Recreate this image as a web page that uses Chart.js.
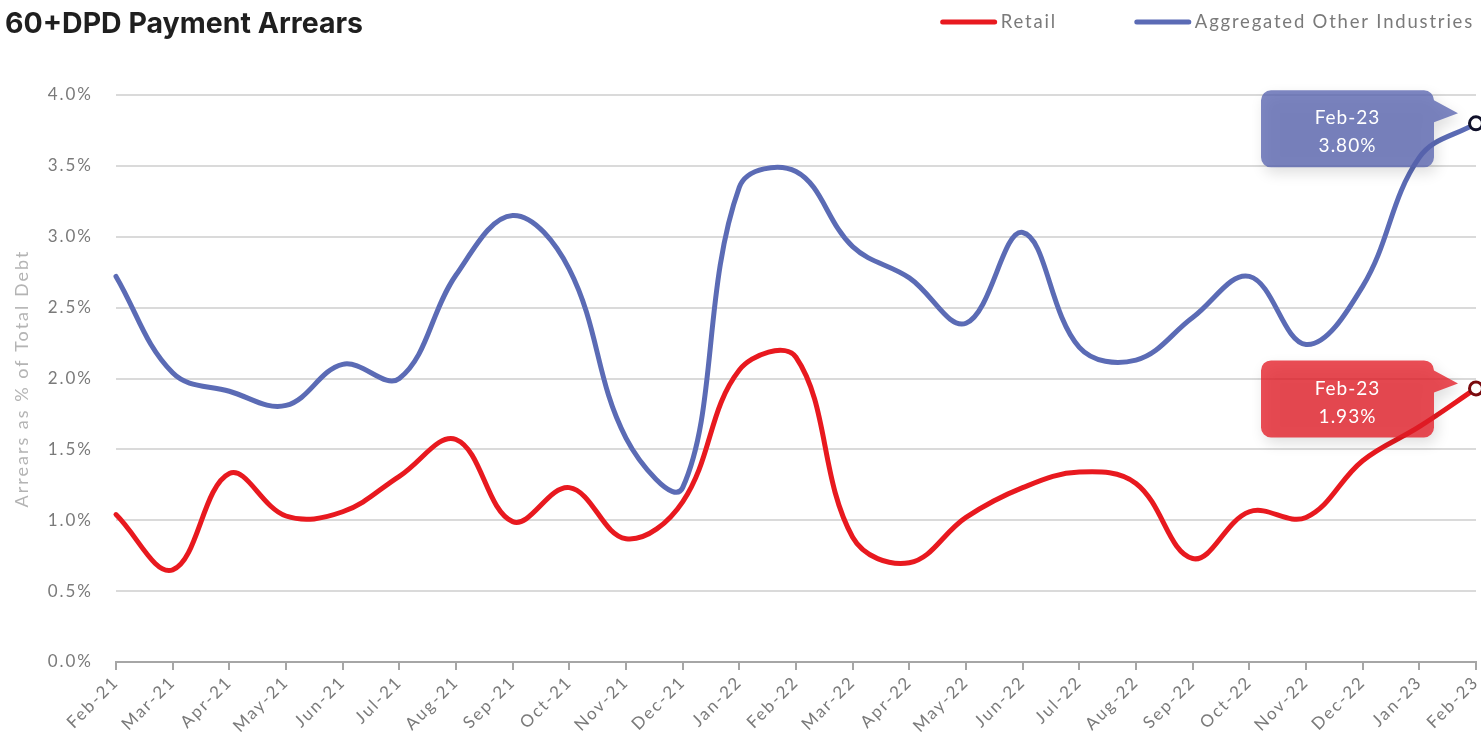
<!DOCTYPE html>
<html>
<head>
<meta charset="utf-8">
<title>60+DPD Payment Arrears</title>
<script src="https://cdn.jsdelivr.net/npm/chart.js@4/dist/chart.umd.min.js"></script>
<style>
  html, body { margin: 0; padding: 0; background: #ffffff; }
  #wrap { position: relative; width: 1481px; height: 735px; }
</style>
</head>
<body>
<div id="wrap"><canvas id="arrears" width="1481" height="735"></canvas></div>
<script>
// ---- data -------------------------------------------------------------
const chartTitle = '60+DPD Payment Arrears';
const axisTitle = 'Arrears as % of Total Debt';
const months = ['Feb-21','Mar-21','Apr-21','May-21','Jun-21','Jul-21','Aug-21','Sep-21','Oct-21','Nov-21','Dec-21',
                'Jan-22','Feb-22','Mar-22','Apr-22','May-22','Jun-22','Jul-22','Aug-22','Sep-22','Oct-22','Nov-22','Dec-22',
                'Jan-23','Feb-23'];
const seriesNames = ['Retail', 'Aggregated Other Industries'];
// arrears, % of total debt
const retail = [1.04, 0.65, 1.33, 1.03, 1.06, 1.31, 1.57, 0.99, 1.23, 0.87, 1.13,
                2.06, 2.15, 0.88, 0.70, 1.02, 1.23, 1.34, 1.26, 0.73, 1.06, 1.02, 1.42,
                1.66, 1.93];
const otherIndustries = [2.72, 2.04, 1.91, 1.81, 2.10, 2.00, 2.73, 3.15, 2.77, 1.58, 1.23,
                         3.35, 3.46, 2.93, 2.71, 2.39, 3.03, 2.22, 2.13, 2.43, 2.72, 2.24, 2.65,
                         3.56, 3.80];
const yTickValues = [0, 0.5, 1.0, 1.5, 2.0, 2.5, 3.0, 3.5, 4.0];

// ---- styling ------------------------------------------------------------
const RED = '#e8191f';
const BLUE = '#5b6bb5';
const GREY_TEXT = '#7a7a7a';
const FONT = 'Lato, "Open Sans", sans-serif';
const lastIdx = months.length - 1;

// callout boxes attached to the final point of each series
const calloutStyle = [
  { fill: 'rgba(228, 28, 38, 0.78)', dy: -28 },
  { fill: 'rgba(88, 100, 175, 0.78)', dy: -33 }
];

const spacingPlugin = {
  id: 'letterSpacing',
  beforeUpdate(chart) { chart.ctx.letterSpacing = '2px'; },
  beforeDraw(chart) { chart.ctx.letterSpacing = '2px'; }
};

function roundedCallout(ctx, left, top, w, h, r, tipX, tipY) {
  const right = left + w, bottom = top + h;
  ctx.beginPath();
  ctx.moveTo(left + r, top);
  ctx.lineTo(right - r, top);
  ctx.arcTo(right, top, right, top + r, r);
  ctx.lineTo(right, top + 10);
  ctx.lineTo(tipX, tipY);
  ctx.lineTo(right, top + 32);
  ctx.lineTo(right, bottom - r);
  ctx.arcTo(right, bottom, right - r, bottom, r);
  ctx.lineTo(left + r, bottom);
  ctx.arcTo(left, bottom, left, bottom - r, r);
  ctx.lineTo(left, top + r);
  ctx.arcTo(left, top, left + r, top, r);
  ctx.closePath();
}

const calloutPlugin = {
  id: 'lastValueCallouts',
  afterDatasetsDraw(chart) {
    const ctx = chart.ctx;
    chart.data.datasets.forEach((ds, i) => {
      const meta = chart.getDatasetMeta(i);
      const pt = meta.data[lastIdx];
      if (!pt) return;
      const st = calloutStyle[i];
      const w = 173, h = 77;
      const left = pt.x - 215;
      const top = pt.y + st.dy;
      ctx.save();
      ctx.shadowColor = 'rgba(0, 0, 0, 0.16)';
      ctx.shadowBlur = 14;
      ctx.shadowOffsetX = 3;
      ctx.shadowOffsetY = 6;
      ctx.fillStyle = st.fill;
      roundedCallout(ctx, left, top, w, h, 10, pt.x - 18, top + 23);
      ctx.fill();
      ctx.restore();

      ctx.save();
      ctx.letterSpacing = '1px';
      ctx.fillStyle = '#ffffff';
      ctx.font = '19px ' + FONT;
      ctx.textAlign = 'center';
      ctx.textBaseline = 'middle';
      const cx = left + w / 2;
      ctx.fillText(chart.data.labels[lastIdx], cx, top + 28);
      ctx.fillText(ds.data[lastIdx].toFixed(2) + '%', cx, top + 56);
      ctx.restore();
    });
  }
};

const headerPlugin = {
  id: 'headerAndLegend',
  afterDraw(chart) {
    const ctx = chart.ctx;
    ctx.save();
    ctx.letterSpacing = '0px';
    ctx.font = '700 28.5px Inter, sans-serif';
    ctx.fillStyle = '#1f1f1f';
    ctx.textAlign = 'left';
    ctx.textBaseline = 'middle';
    ctx.fillText(chartTitle, 5, 24);

    // legend, right aligned
    ctx.letterSpacing = '1.8px';
    ctx.font = '18.5px ' + FONT;
    ctx.fillStyle = GREY_TEXT;
    const lineLen = 52, gapText = 6, gapItem = 80, y = 22;
    let xr = 1474;
    const items = chart.data.datasets.map(d => ({ text: d.label, color: d.borderColor }));
    for (let k = items.length - 1; k >= 0; k--) {
      const it = items[k];
      const tw = ctx.measureText(it.text).width;
      const tx = xr - tw;
      const lx2 = tx - gapText, lx1 = lx2 - lineLen;
      ctx.strokeStyle = it.color;
      ctx.lineWidth = 5;
      ctx.lineCap = 'round';
      ctx.beginPath();
      ctx.moveTo(lx1, y);
      ctx.lineTo(lx2, y);
      ctx.stroke();
      ctx.fillText(it.text, tx, y);
      xr = lx1 - gapItem;
    }
    ctx.restore();
  }
};

new Chart(document.getElementById('arrears'), {
  type: 'line',
  data: {
    labels: months,
    datasets: [
      {
        label: seriesNames[0],
        data: retail,
        borderColor: RED,
        backgroundColor: RED,
        borderWidth: 5,
        borderCapStyle: 'round',
        tension: 0.38,
        clip: false,
        pointRadius: c => c.dataIndex === lastIdx ? 6.5 : 0,
        pointBackgroundColor: '#ffffff',
        pointBorderColor: '#7a0a0e',
        pointBorderWidth: 3
      },
      {
        label: seriesNames[1],
        data: otherIndustries,
        borderColor: BLUE,
        backgroundColor: BLUE,
        borderWidth: 5,
        borderCapStyle: 'round',
        tension: 0.38,
        clip: false,
        pointRadius: c => c.dataIndex === lastIdx ? 6.5 : 0,
        pointBackgroundColor: '#ffffff',
        pointBorderColor: '#10112a',
        pointBorderWidth: 3
      }
    ]
  },
  options: {
    responsive: false,
    animation: false,
    devicePixelRatio: 1,
    layout: { autoPadding: false, padding: { top: 95, left: 0, right: 5, bottom: 0 } },
    plugins: {
      legend: { display: false },
      title: { display: false },
      tooltip: { enabled: false }
    },
    scales: {
      x: {
        type: 'category',
        offset: false,
        grid: { drawOnChartArea: false, drawTicks: true, tickLength: 8, color: '#a6a6a6', lineWidth: 2 },
        border: { display: true, color: '#a6a6a6', width: 2 },
        ticks: {
          autoSkip: false, minRotation: 45, maxRotation: 45,
          color: GREY_TEXT, font: { family: FONT, size: 17 }, padding: 2
        },
        afterFit(scale) {
          scale.height = 73;
          scale.paddingLeft = 0;
          scale.paddingRight = 0;
        }
      },
      y: {
        min: 0, max: 4,
        afterBuildTicks(scale) { scale.ticks = yTickValues.map(v => ({ value: v })); },
        grid: { color: '#dadada', lineWidth: 2, drawTicks: false },
        border: { display: false },
        ticks: {
          color: GREY_TEXT, font: { family: FONT, size: 17 }, padding: 23,
          callback: v => Number(v).toFixed(1) + '%'
        },
        title: {
          display: true, text: axisTitle, color: '#b4b4b4',
          font: { family: FONT, size: 18 }, padding: { top: 11, bottom: 0 }
        },
        afterFit(scale) { scale.width = 116; }
      }
    }
  },
  plugins: [spacingPlugin, calloutPlugin, headerPlugin]
});
</script>
</body>
</html>
